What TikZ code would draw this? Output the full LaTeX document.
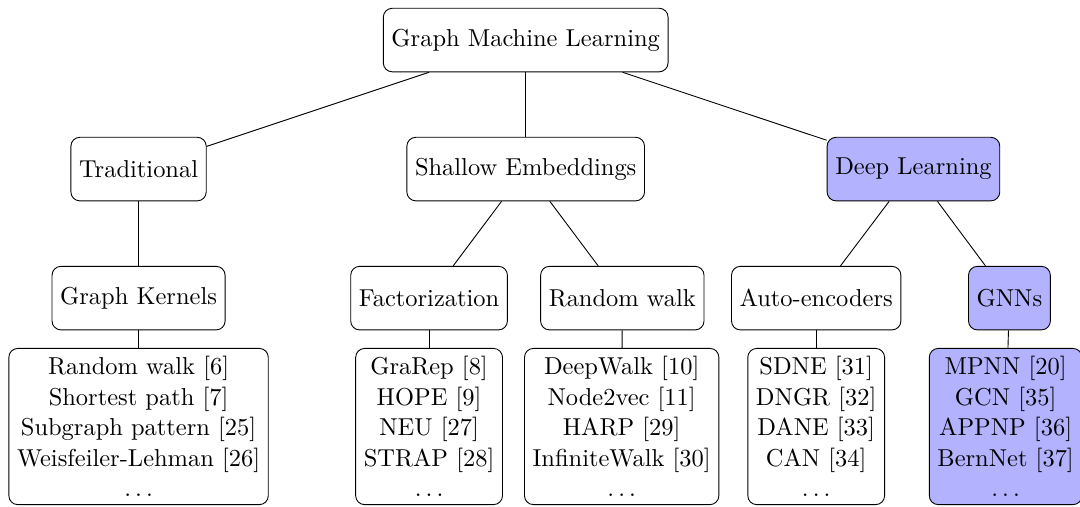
\documentclass[11pt,tikz,border=0pt]{standalone}
\usepackage{tikz}

\begin{document}
\begin{tikzpicture}[
  cat/.style={rectangle,draw,rounded corners,minimum height=1cm},
  list/.style={rectangle,draw,rounded corners,align=center},
  hl/.style={fill=blue!30}]
\useasboundingbox (0,0) rectangle (16.99,-7.975);

% Root
\node[cat] (gml) at (8.27,-0.63) {Graph Machine Learning};

% First level
\node[cat] (trad) at (2.18,-2.66) {Traditional};
\node[cat] (shallow) at (8.27,-2.66) {Shallow Embeddings};
\node[cat,hl] (deep) at (14.37,-2.66) {Deep Learning};

% Second level
\node[cat] (kernels) at (2.18,-4.69) {Graph Kernels};
\node[cat] (fact) at (6.75,-4.69) {Factorization};
\node[cat] (rwalk) at (9.79,-4.69) {Random walk};
\node[cat] (autoenc) at (12.84,-4.69) {Auto-encoders};
\node[cat,hl] (gnns) at (15.88,-4.69) {GNNs};

% Method lists
\node[list] (kernelsl) at (2.18,-6.71) {Random walk [6]\\Shortest path [7]\\Subgraph pattern [25]\\Weisfeiler-Lehman [26]\\$\dots$};
\node[list] (factl) at (6.75,-6.71) {GraRep [8]\\HOPE [9]\\NEU [27]\\STRAP [28]\\$\dots$};
\node[list] (rwalkl) at (9.78,-6.71) {DeepWalk [10]\\Node2vec [11]\\HARP [29]\\InfiniteWalk [30]\\$\dots$};
\node[list] (autoencl) at (12.84,-6.71) {SDNE [31]\\DNGR [32]\\DANE [33]\\CAN [34]\\$\dots$};
\node[list,hl] (gnnsl) at (15.82,-6.71) {MPNN [20]\\GCN [35]\\APPNP [36]\\BernNet [37]\\$\dots$};

% Edges
\draw (gml) -- (trad);
\draw (gml) -- (shallow);
\draw (gml) -- (deep);
\draw (trad) -- (kernels);
\draw (shallow) -- (fact);
\draw (shallow) -- (rwalk);
\draw (deep) -- (autoenc);
\draw (deep) -- (gnns);
\draw (kernels) -- (kernelsl);
\draw (fact) -- (factl);
\draw (rwalk) -- (rwalkl);
\draw (autoenc) -- (autoencl);
\draw (gnns) -- (gnnsl);

\end{tikzpicture}
\end{document}
